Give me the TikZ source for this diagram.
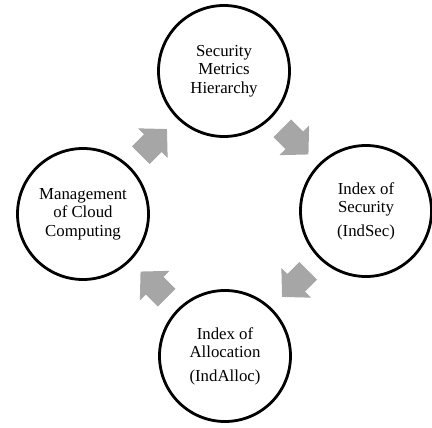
\documentclass[tikz,border=0pt]{standalone}
\usepackage{fontspec}
\setmainfont{Liberation Serif}
\usetikzlibrary{calc}
\begin{document}
\begin{tikzpicture}[x=1pt,y=-1pt,
  stage/.style={circle,draw=black,line width=2.8pt,minimum size=131pt,
    inner sep=0pt,align=center,
    font=\fontsize{16.8}{18.5}\selectfont},
  flowfill/.style={fill=black!35,draw=none},
  blockarrow/.pic={
    % short block arrow pointing along +x, centred on the pic origin
    \path[flowfill] (-18pt,-12.5pt) -- (-1pt,-12.5pt) -- (-1pt,-21pt)
      -- (19pt,0pt) -- (-1pt,21pt) -- (-1pt,12.5pt) -- (-18pt,12.5pt) -- cycle;
  }]
  \useasboundingbox (0,0) rectangle (432,428);
  % four stages of the cycle
  \node[stage] (smh)  at (224,71)  {Security\\Metrics\\Hierarchy};
  \node[stage] (isec) at (366,211) {Index of\\Security\\[5pt](IndSec)};
  \node[stage] (ialo) at (225,356) {Index of\\Allocation\\[5pt](IndAlloc)};
  \node[stage] (mcc)  at (83,214)  {Management\\of Cloud\\Computing};
  % block arrows halfway between neighbouring stages
  \coordinate (m1) at ($(mcc)!0.5!(smh)$);
  \coordinate (m2) at ($(smh)!0.5!(isec)$);
  \coordinate (m3) at ($(isec)!0.5!(ialo)$);
  \coordinate (m4) at ($(ialo)!0.5!(mcc)$);
  \pic[rotate=45]   at (m1) {blockarrow};
  \pic[rotate=-45]  at (m2) {blockarrow};
  \pic[rotate=-135] at (m3) {blockarrow};
  \pic[rotate=135]  at (m4) {blockarrow};
\end{tikzpicture}
\end{document}
